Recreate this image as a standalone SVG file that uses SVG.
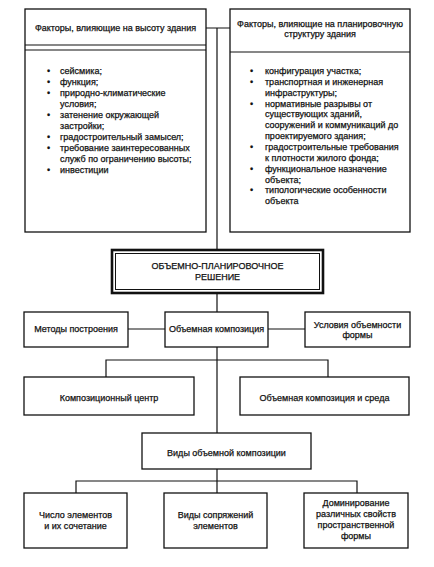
<svg xmlns="http://www.w3.org/2000/svg" width="434" height="567" viewBox="0 0 434 567">
<style>
.box{fill:#fff;stroke:#111;stroke-width:1.3}
.ln{stroke:#111;stroke-width:1.2;fill:none}
text{font-family:"Liberation Sans",Arial,sans-serif;font-size:9px;fill:#111;stroke:#111;stroke-width:0.25}
.c{text-anchor:middle}
</style>
<rect width="434" height="567" fill="#fff"/>
<g id="connectors">
<path class="ln" d="M206 28 H230 M217 28 V250 M217 293 V312 M128 329 H165 M268 329 H305 M217 347 V433 M106 377 V360 H328 V377 M217 469 V493 M76 493 V481 H357 V493"/>
</g>
<g id="factors-height">
<rect class="box" x="25" y="9" width="181" height="223"/>
<line class="ln" x1="25" y1="45" x2="206" y2="45" stroke-width="2"/>
<line class="ln" x1="25" y1="50" x2="206" y2="50"/>
<text class="c" x="115.5" y="31">Факторы, влияющие на высоту здания</text>
<g>
<text x="47" y="74">•</text><text x="60" y="74">сейсмика;</text>
<text x="47" y="85">•</text><text x="60" y="85">функция;</text>
<text x="47" y="96">•</text><text x="60" y="96">природно-климатические</text>
<text x="60" y="107">условия;</text>
<text x="47" y="118">•</text><text x="60" y="118">затенение окружающей</text>
<text x="60" y="129">застройки;</text>
<text x="47" y="140">•</text><text x="60" y="140">градостроительный замысел;</text>
<text x="47" y="151">•</text><text x="60" y="151">требование заинтересованных</text>
<text x="60" y="162">служб по ограничению высоты;</text>
<text x="47" y="173">•</text><text x="60" y="173">инвестиции</text>
</g>
</g>
<g id="factors-plan">
<rect class="box" x="230" y="9" width="180" height="223"/>
<line class="ln" x1="230" y1="52" x2="410" y2="52" stroke-width="1.6"/>
<text class="c" x="320" y="27">Факторы, влияющие на планировочную</text>
<text class="c" x="320" y="37">структуру здания</text>
<g>
<text x="250" y="74">•</text><text x="265" y="74">конфигурация участка;</text>
<text x="250" y="84.9">•</text><text x="265" y="84.9">транспортная и инженерная</text>
<text x="265" y="95.7">инфраструктуры;</text>
<text x="250" y="106.6">•</text><text x="265" y="106.6">нормативные разрывы от</text>
<text x="265" y="117.4">существующих зданий,</text>
<text x="265" y="128.3">сооружений и коммуникаций до</text>
<text x="265" y="139.1">проектируемого здания;</text>
<text x="250" y="150">•</text><text x="265" y="150">градостроительные требования</text>
<text x="265" y="160.8">к плотности жилого фонда;</text>
<text x="250" y="171.7">•</text><text x="265" y="171.7">функциональное назначение</text>
<text x="265" y="182.5">объекта;</text>
<text x="250" y="193.4">•</text><text x="265" y="193.4">типологические особенности</text>
<text x="265" y="204.2">объекта</text>
</g>
</g>
<g id="main">
<rect x="112" y="250" width="211" height="43" fill="#fff" stroke="#111" stroke-width="2.6"/>
<rect x="115.5" y="253.5" width="204" height="36" fill="none" stroke="#111" stroke-width="1"/>
<text class="c" x="217.5" y="269">ОБЪЕМНО-ПЛАНИРОВОЧНОЕ</text>
<text class="c" x="217.5" y="280">РЕШЕНИЕ</text>
</g>
<g id="methods">
<rect class="box" x="24" y="312" width="104" height="35"/>
<text class="c" x="76" y="332">Методы построения</text>
</g>
<g id="volume-composition">
<rect class="box" x="165" y="312" width="103" height="35"/>
<text class="c" x="216.5" y="332">Объемная композиция</text>
</g>
<g id="conditions">
<rect class="box" x="305" y="312" width="105" height="35"/>
<text class="c" x="357.5" y="328">Условия объемности</text>
<text class="c" x="357.5" y="338">формы</text>
</g>
<g id="center">
<rect class="box" x="24" y="377" width="170" height="38"/>
<text class="c" x="109" y="401">Композиционный центр</text>
</g>
<g id="environment">
<rect class="box" x="240" y="377" width="169" height="38"/>
<text class="c" x="324.5" y="401">Объемная композиция и среда</text>
</g>
<g id="types">
<rect class="box" x="142" y="433" width="169" height="36"/>
<text class="c" x="226.5" y="456">Виды объемной композиции</text>
</g>
<g id="number">
<rect class="box" x="24" y="493" width="103" height="55"/>
<text class="c" x="75.5" y="518">Число элементов</text>
<text class="c" x="75.5" y="529">и их сочетание</text>
</g>
<g id="joints">
<rect class="box" x="164" y="493" width="103" height="55"/>
<text class="c" x="215.5" y="518">Виды сопряжений</text>
<text class="c" x="215.5" y="529">элементов</text>
</g>
<g id="dominance">
<rect class="box" x="304" y="493" width="104" height="55"/>
<text class="c" x="356" y="506">Доминирование</text>
<text class="c" x="356" y="517">различных свойств</text>
<text class="c" x="356" y="528">пространственной</text>
<text class="c" x="356" y="539">формы</text>
</g>
</svg>
